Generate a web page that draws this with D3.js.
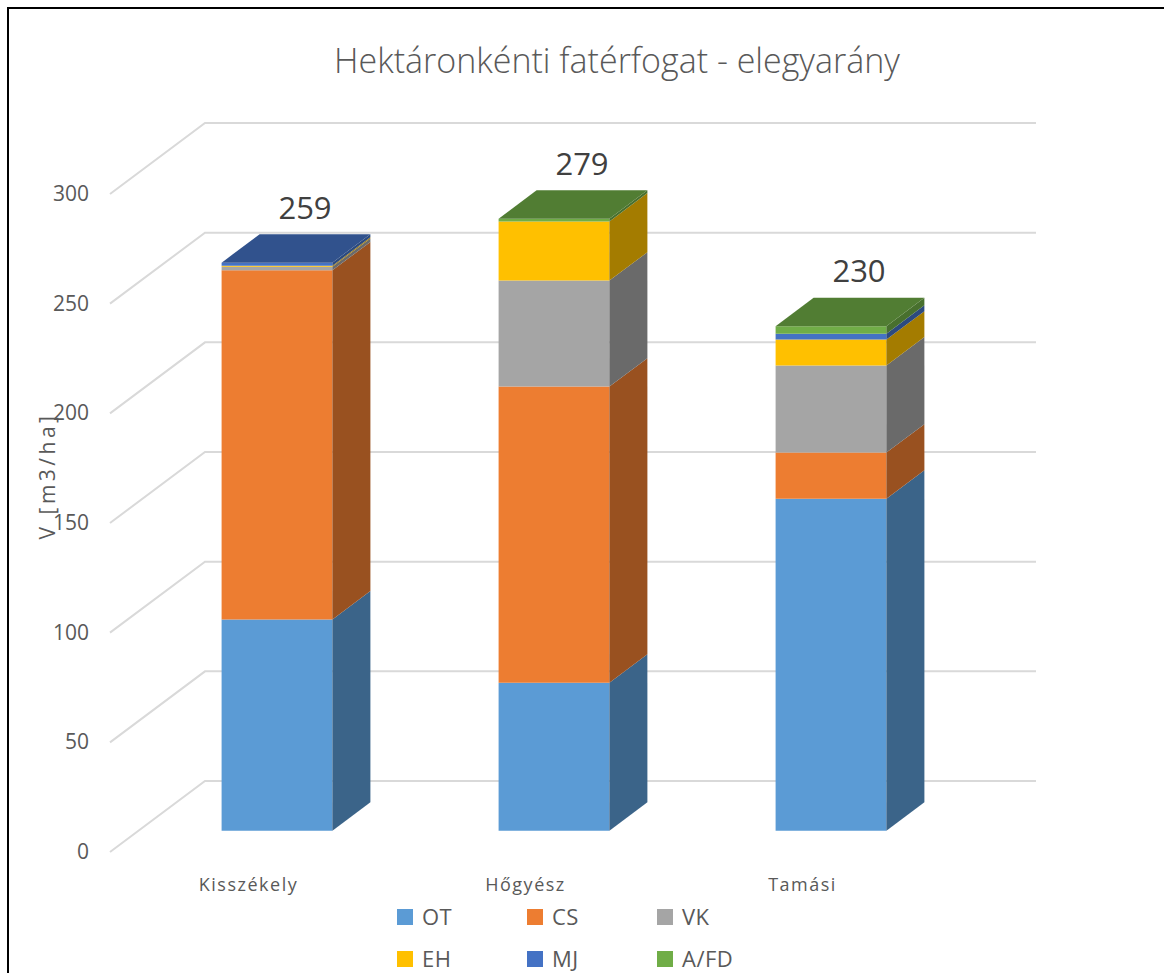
<!DOCTYPE html>
<html>
<head>
<meta charset="utf-8">
<script src="https://cdn.jsdelivr.net/npm/d3@7"></script>
<style>
  html, body { margin: 0; padding: 0; background: #fff; }
  svg { display: block; font-family: "Open Sans", "DejaVu Sans", sans-serif; }
</style>
</head>
<body>
<svg id="chart" width="1164" height="973"></svg>
<script>
// Stand volume per hectare by site, stacked by tree species group
const categories = ["Kisszékely", "Hőgyész", "Tamási"];
const seriesNames = ["OT", "CS", "VK", "EH", "MJ", "A/FD"];
const seriesColors = ["#5B9BD5", "#ED7D31", "#A5A5A5", "#FFC000", "#4472C4", "#70AD47"];
const valuesOT  = [96.3, 67.5, 151.4];
const valuesCS  = [159.2, 135.0, 21.0];
const valuesVK  = [1.6, 48.3, 39.7];
const valuesEH  = [0.5, 27.0, 11.8];
const valuesMJ  = [1.4, 0.0, 2.7];
const valuesAFD = [0.0, 1.2, 3.4];
const yTicks = [0, 50, 100, 150, 200, 250, 300];
const titleText = "Hektáronkénti fatérfogat - elegyarány";
const yAxisTitle = "V [m3/ha]";

const seriesValues = [valuesOT, valuesCS, valuesVK, valuesEH, valuesMJ, valuesAFD];

const svg = d3.select("#chart");

// Oblique 3D frame: front floor edge starts at (x0, y0); depth vector runs up-right
const x0 = 110, y0 = 852;
const plotW = 831, plotH = 658;
const depth = { dx: 95, dy: -71 };
const barFront = 0.3, barBack = 0.7;

const y = d3.scaleLinear().domain([0, 300]).range([0, plotH]);
const x = d3.scaleBand().domain(categories).range([0, plotW])
  .paddingInner(0.6).paddingOuter(0.3);

// projected point: horizontal offset px, value v, depth fraction d
function P(px, v, d) {
  return [x0 + px + depth.dx * d, y0 - y(v) + depth.dy * d];
}

// outer frame
svg.append("path")
  .attr("d", "M8,973 L8,8 L1164,8")
  .attr("fill", "none").attr("stroke", "#000").attr("stroke-width", 2);

// title
svg.append("text")
  .attr("x", 617).attr("y", 73)
  .attr("text-anchor", "middle")
  .attr("font-size", 34).attr("font-weight", 300)
  .attr("fill", "#595959")
  .text(titleText);

// gridlines: left wall diagonal + back wall horizontal
const grid = svg.append("g").attr("stroke", "#D9D9D9").attr("stroke-width", 2).attr("fill", "none");
yTicks.forEach(t => {
  const a = P(0, t, 0), b = P(0, t, 1), c = P(plotW, t, 1);
  grid.append("path").attr("d", `M${a[0]},${a[1]} L${b[0]},${b[1]} L${c[0]},${c[1]}`);
});

// value axis labels
svg.append("g").selectAll("text").data(yTicks).join("text")
  .attr("x", 89).attr("y", d => y0 - y(d) + 7)
  .attr("text-anchor", "end")
  .attr("font-size", 21).attr("fill", "#595959")
  .text(d => d);

// value axis title
svg.append("text")
  .attr("transform", "translate(55,476) rotate(-90)")
  .attr("text-anchor", "middle")
  .attr("font-size", 21).attr("letter-spacing", 3.5).attr("fill", "#595959")
  .text(yAxisTitle);

// category labels along the front floor edge
svg.append("g").selectAll("text").data(categories).join("text")
  .attr("x", d => x0 + x(d) + x.bandwidth() / 2)
  .attr("y", 891)
  .attr("text-anchor", "middle")
  .attr("font-size", 18).attr("letter-spacing", 1.5).attr("fill", "#595959")
  .text(d => d);

// stacked 3D columns
const rows = categories.map((c, i) => {
  const r = { category: c };
  seriesNames.forEach((s, k) => { r[s] = seriesValues[k][i]; });
  return r;
});
const stack = d3.stack().keys(seriesNames)(rows);

const poly = pts => "M" + pts.map(p => p.join(",")).join("L") + "Z";
const bars = svg.append("g");

categories.forEach((cat, i) => {
  const xl = x(cat), xr = x(cat) + x.bandwidth();
  let topIdx = -1;
  stack.forEach((layer, k) => { if (layer[i][1] - layer[i][0] > 0) topIdx = k; });
  stack.forEach((layer, k) => {
    const [v0, v1] = layer[i];
    if (v1 - v0 <= 0) return;
    const base = d3.color(seriesColors[k]);
    // front face
    bars.append("path")
      .attr("d", poly([P(xl, v0, barFront), P(xr, v0, barFront), P(xr, v1, barFront), P(xl, v1, barFront)]))
      .attr("fill", base.formatHex());
    // right side face
    const side = d3.rgb(base.r * 0.645, base.g * 0.645, base.b * 0.645);
    bars.append("path")
      .attr("d", poly([P(xr, v0, barFront), P(xr, v0, barBack), P(xr, v1, barBack), P(xr, v1, barFront)]))
      .attr("fill", side.formatHex());
    // top face of the highest segment
    if (k === topIdx) {
      const top = d3.rgb(base.r * 0.72, base.g * 0.72, base.b * 0.72);
      bars.append("path")
        .attr("d", poly([P(xl, v1, barFront), P(xr, v1, barFront), P(xr, v1, barBack), P(xl, v1, barBack)]))
        .attr("fill", top.formatHex());
    }
  });
  // total label above the column
  const total = d3.sum(seriesValues, s => s[i]);
  const ft = P(xl + x.bandwidth() / 2, total, barFront);
  bars.append("text")
    .attr("x", ft[0] + 28).attr("y", ft[1] - 44)
    .attr("text-anchor", "middle")
    .attr("font-size", 31).attr("fill", "#404040")
    .text(Math.round(total));
});

// legend, three columns by two rows
const legend = svg.append("g");
seriesNames.forEach((s, k) => {
  const lx = 397 + (k % 3) * 130, ly = 909 + Math.floor(k / 3) * 42;
  legend.append("rect").attr("x", lx).attr("y", ly).attr("width", 16).attr("height", 16)
    .attr("fill", seriesColors[k]);
  legend.append("text").attr("x", lx + 25).attr("y", ly + 16)
    .attr("font-size", 22).attr("letter-spacing", 0.5).attr("fill", "#595959").text(s);
});
</script>
</body>
</html>
